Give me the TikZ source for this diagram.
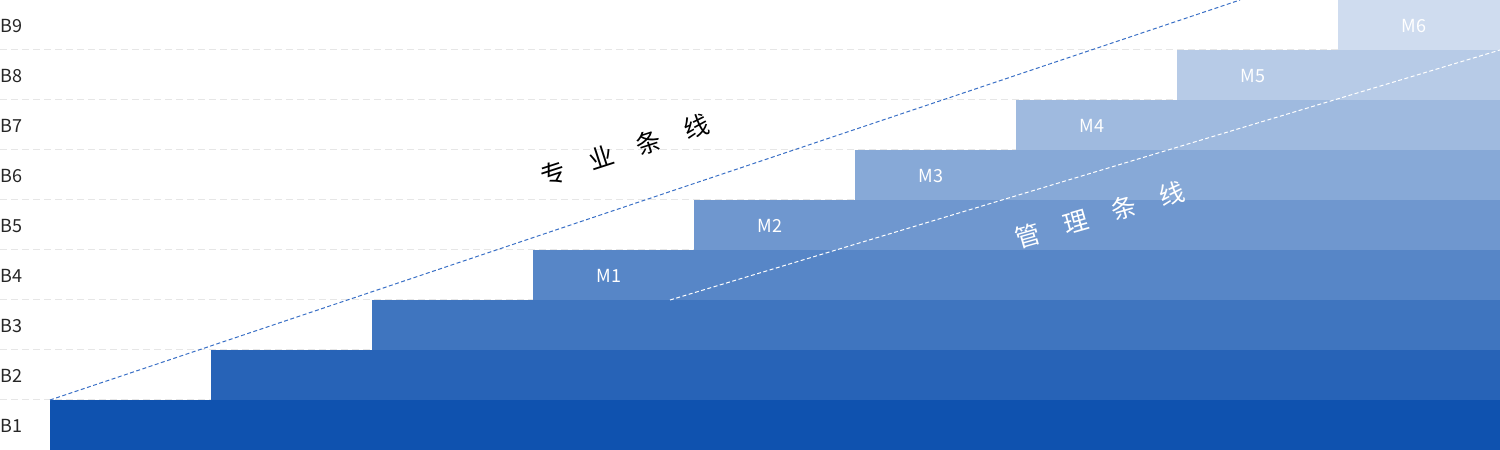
\documentclass[tikz,border=0pt]{standalone}
\usepackage{fontspec}
\setmainfont{Noto Sans CJK SC}
\usetikzlibrary{positioning}
\definecolor{barblue}{HTML}{0F52AF}
\definecolor{gridgray}{HTML}{E6E6E6}
\definecolor{lineblue}{HTML}{3A70C6}
\newcommand{\trackgap}{\hspace{25pt}}
\tikzset{
  grid line/.style={gridgray, line width=1pt, dash pattern=on 7pt off 4pt},
  bar/.style={anchor=south west, inner sep=0pt, minimum height=50pt, outer sep=0pt},
  row label/.style={anchor=west, inner sep=0pt, text=black!85, font=\fontsize{18}{18}\selectfont},
  m label/.style={inner sep=0pt, text=white, font=\fontsize{18}{18}\selectfont},
  pro line/.style={lineblue, line width=1pt, dash pattern=on 4pt off 2.5pt},
  mgmt line/.style={white, line width=1pt, dash pattern=on 4pt off 2.5pt},
  track label/.style={inner sep=0pt, font=\fontsize{25}{25}\selectfont},
}
\begin{document}
\begin{tikzpicture}[x=1pt, y=1pt]
  \useasboundingbox (0,0) rectangle (1500,450);
  % dashed row lines
  \foreach \i in {1,...,9}
    \draw[grid line] (0,\i*50) -- (1500,\i*50);
  % steps and row labels
  \foreach \i in {1,...,9} {
    \pgfmathtruncatemacro{\barx}{50+(\i-1)*161}
    \pgfmathtruncatemacro{\barw}{1500-\barx}
    \pgfmathtruncatemacro{\pct}{100-(\i-1)*10}
    \node[bar, fill=barblue!\pct!white, minimum width=\barw pt] (bar\i) at (\barx,{(\i-1)*50}) {};
    \node[row label] (b\i) at (0,{(\i-1)*50+24}) {B\i};
  }
  \foreach \i/\m in {4/M1, 5/M2, 6/M3, 7/M4, 8/M5, 9/M6}
    \node[m label] (\m) at ([xshift=76pt, yshift=-1pt]bar\i.west) {\m};
  % the two lines
  \coordinate (pro start) at (bar1.north west);
  \coordinate (pro end) at (1240,450);
  \draw[pro line] (pro start) -- (pro end);
  \coordinate (mgmt start) at ([xshift=298pt]bar3.north west);
  \coordinate (mgmt end) at (bar8.north east);
  \draw[mgmt line] (mgmt start) -- (mgmt end);
  \node[track label, rotate=18] (pro) at (625,300) {专\trackgap 业\trackgap 条\trackgap 线};
  \node[track label, rotate=16, text=white] (mgmt) at (1100,235) {管\trackgap 理\trackgap 条\trackgap 线};
\end{tikzpicture}
\end{document}
